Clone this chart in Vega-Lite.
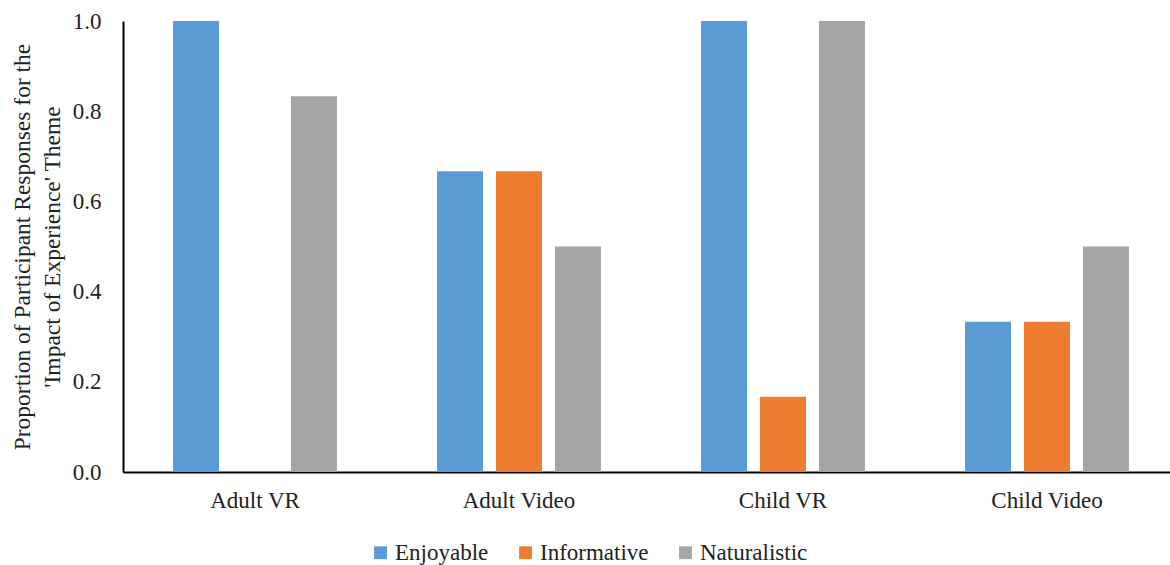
{
  "$schema": "https://vega.github.io/schema/vega-lite/v6.json",
  "autosize": {"type": "none"},
  "padding": {"left": 123, "top": 21, "right": 0, "bottom": 93},
  "width": 1056,
  "height": 451,
  "background": "white",
  "config": {
    "view": {"stroke": null},
    "font": "Times New Roman, Liberation Serif, serif"
  },
  "data": {
    "values": [
      {"group": "Adult VR", "category": "Enjoyable", "proportion": 1.0},
      {"group": "Adult VR", "category": "Informative", "proportion": 0.0},
      {"group": "Adult VR", "category": "Naturalistic", "proportion": 0.833},
      {"group": "Adult Video", "category": "Enjoyable", "proportion": 0.667},
      {"group": "Adult Video", "category": "Informative", "proportion": 0.667},
      {"group": "Adult Video", "category": "Naturalistic", "proportion": 0.5},
      {"group": "Child VR", "category": "Enjoyable", "proportion": 1.0},
      {"group": "Child VR", "category": "Informative", "proportion": 0.167},
      {"group": "Child VR", "category": "Naturalistic", "proportion": 1.0},
      {"group": "Child Video", "category": "Enjoyable", "proportion": 0.333},
      {"group": "Child Video", "category": "Informative", "proportion": 0.333},
      {"group": "Child Video", "category": "Naturalistic", "proportion": 0.5}
    ]
  },
  "mark": {"type": "bar"},
  "encoding": {
    "x": {
      "field": "group",
      "type": "nominal",
      "sort": ["Adult VR", "Adult Video", "Child VR", "Child Video"],
      "scale": {"paddingInner": 0.33, "paddingOuter": 0.165},
      "axis": {
        "title": null,
        "labelAngle": 0,
        "labelFont": "Times New Roman, Liberation Serif, serif",
        "labelFontSize": 23,
        "labelColor": "#222222",
        "labelPadding": 17,
        "ticks": false,
        "domainColor": "#000000",
        "domainWidth": 2,
        "grid": false
      }
    },
    "xOffset": {
      "field": "category",
      "type": "nominal",
      "sort": ["Enjoyable", "Informative", "Naturalistic"],
      "scale": {"paddingInner": 0.22, "paddingOuter": 0.11}
    },
    "y": {
      "field": "proportion",
      "type": "quantitative",
      "scale": {"domain": [0, 1], "nice": false},
      "axis": {
        "title": ["Proportion of Participant Responses  for the", "'Impact of Experience' Theme"],
        "titleFont": "Times New Roman, Liberation Serif, serif",
        "titleFontSize": 23.5,
        "titleFontWeight": "normal",
        "titleColor": "#222222",
        "titlePadding": 8,
        "titleLineHeight": 30,
        "values": [0, 0.2, 0.4, 0.6, 0.8, 1.0],
        "format": ".1f",
        "labelFont": "Times New Roman, Liberation Serif, serif",
        "labelFontSize": 23,
        "labelColor": "#222222",
        "labelPadding": 22,
        "ticks": false,
        "grid": false,
        "domainColor": "#000000",
        "domainWidth": 2
      }
    },
    "color": {
      "field": "category",
      "type": "nominal",
      "sort": ["Enjoyable", "Informative", "Naturalistic"],
      "scale": {
        "domain": ["Enjoyable", "Informative", "Naturalistic"],
        "range": ["#5B9BD5", "#ED7D31", "#A5A5A5"]
      },
      "legend": {
        "title": null,
        "orient": "none",
        "direction": "horizontal",
        "legendX": 246,
        "legendY": 520,
        "symbolType": "square",
        "symbolSize": 165,
        "symbolStrokeWidth": 0,
        "labelFont": "Times New Roman, Liberation Serif, serif",
        "labelFontSize": 23,
        "labelColor": "#222222",
        "labelOffset": 3,
        "columnPadding": 25
      }
    }
  }
}
